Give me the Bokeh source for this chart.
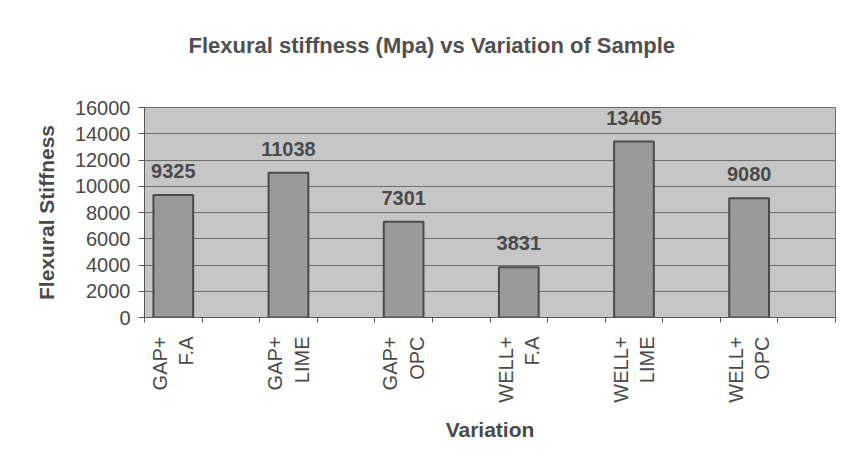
import math
from bokeh.plotting import figure
from bokeh.models import FixedTicker, Range1d
from bokeh.core.properties import value
from bokeh.embed import file_html
from bokeh.resources import INLINE

# ---- data ----
categories = ["GAP+\nF.A", "GAP+\nLIME", "GAP+\nOPC", "WELL+\nF.A", "WELL+\nLIME", "WELL+\nOPC"]
stiffness = [9325, 11038, 7301, 3831, 13405, 9080]
y_ticks = [0, 2000, 4000, 6000, 8000, 10000, 12000, 14000, 16000]
title_text = "Flexural stiffness (Mpa) vs Variation of Sample"
x_title = "Variation"
y_title = "Flexural Stiffness"

# each category occupies one slot of two on the axis (Excel-like spacing)
n_slots = 2 * len(categories)
xs = [2 * i + 0.5 for i in range(len(categories))]
labels = [str(v) for v in stiffness]

FONT = "Liberation Sans"
TXT = "#4a4a4a"

p = figure(width=843, height=461, output_backend="svg", toolbar_location=None,
           x_range=Range1d(0, n_slots), y_range=Range1d(0, 16000),
           min_border_left=144, min_border_right=8, min_border_top=107,
           min_border_bottom=144)

p.background_fill_color = "#c6c6c6"
p.border_fill_color = "#ffffff"
p.outline_line_color = "#6e6e6e"
p.outline_line_width = 1

p.vbar(x=xs, top=stiffness, width=0.69, bottom=0,
       fill_color="#9a9a9a", line_color="#4a4a4a", line_width=2)
p.text(x=xs, y=stiffness, text=labels, text_align="center",
       text_baseline="alphabetic", y_offset=-24,
       text_font=value(FONT), text_font_size="20px", text_font_style="bold",
       text_color=TXT)

# title (extra blank lines lift it well above the plot frame)
p.title.text = title_text + "\n \n "
p.title.text_font = FONT
p.title.text_font_size = "22px"
p.title.text_font_style = "bold"
p.title.text_color = "#505050"
p.title.align = "left"
p.title.offset = 44
p.title.standoff = 0

# grid
p.xgrid.grid_line_color = None
p.ygrid.grid_line_color = "#6e6e6e"
p.ygrid.grid_line_width = 1

# y axis
p.yaxis.ticker = FixedTicker(ticks=y_ticks)
p.yaxis.axis_label = y_title
p.yaxis.axis_label_text_font = FONT
p.yaxis.axis_label_text_font_size = "21px"
p.yaxis.axis_label_text_font_style = "bold"
p.yaxis.axis_label_text_color = TXT
p.yaxis.axis_label_standoff = 14
p.yaxis.major_label_text_font = FONT
p.yaxis.major_label_text_font_size = "20px"
p.yaxis.major_label_text_color = TXT
p.yaxis.major_label_standoff = 8
p.yaxis.major_tick_in = 0
p.yaxis.major_tick_out = 6
p.yaxis.minor_tick_line_color = None
p.yaxis.axis_line_color = "#5a5a5a"
p.yaxis.major_tick_line_color = "#5a5a5a"

# x axis
p.xaxis.ticker = FixedTicker(ticks=xs, minor_ticks=list(range(n_slots + 1)))
p.xaxis.major_label_overrides = {x: c for x, c in zip(xs, categories)}
p.xaxis.major_label_orientation = math.pi / 2
p.xaxis.major_label_text_font = FONT
p.xaxis.major_label_text_font_size = "20px"
p.xaxis.major_label_text_color = TXT
p.xaxis.major_label_standoff = 14
p.xaxis.major_tick_line_color = None
p.xaxis.major_tick_in = 0
p.xaxis.major_tick_out = 5
p.xaxis.minor_tick_in = 0
p.xaxis.minor_tick_out = 5
p.xaxis.minor_tick_line_color = "#5a5a5a"
p.xaxis.axis_line_color = "#5a5a5a"
p.xaxis.axis_label = x_title
p.xaxis.axis_label_text_font = FONT
p.xaxis.axis_label_text_font_size = "21px"
p.xaxis.axis_label_text_font_style = "bold"
p.xaxis.axis_label_text_color = TXT
p.xaxis.axis_label_standoff = 12

open("out.html", "w").write(file_html(p, INLINE))
